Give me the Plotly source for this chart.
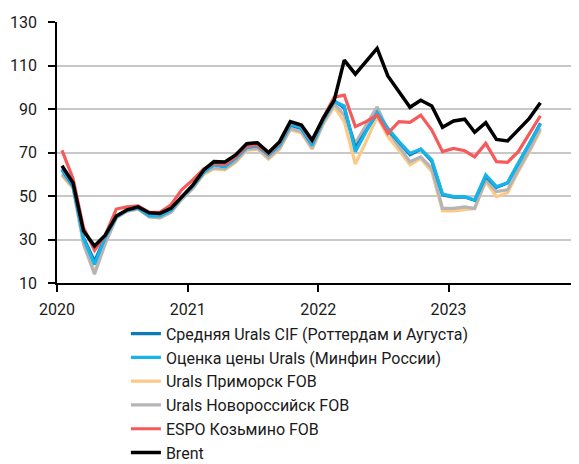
import plotly.graph_objects as go

# Monthly prices, USD/bbl, Jan 2020 - Sep 2023
months = [f"{y}-{m:02d}-15" for y in range(2020, 2024) for m in range(1, 13)][:45]

urals_cif = [62, 54.5, 31, 20, 31, 40.5, 43.5, 44.5, 41, 41, 43.5, 49.5,
             54.5, 61, 64.5, 63.5, 67.5, 72.5, 73, 69, 73.5, 82.5, 81, 73.5,
             85, 93.8, 90.5, 72, 80, 88, 80.5, 74.5, 69, 71.5, 66, 50.5,
             49.5, 49.5, 48, 59, 54, 56, 64.5, 74, 83.5]
urals_minfin = [62.5, 55, 30.5, 18.5, 31, 40.5, 43.5, 44.5, 41, 41, 43.5, 49.5,
                54.5, 61, 64.5, 63.5, 67.5, 72.5, 73, 69, 73.5, 83, 81.5, 73.5,
                85, 93.4, 91.4, 70.4, 79.6, 88.5, 81.1, 75, 69.6, 71.6, 66.6, 50.9,
                49.7, 49.7, 48.2, 59.7, 54.3, 56.1, 65, 74.2, 83.1]
urals_primorsk = [59.5, 53.5, 29, 15, 29, 40, 43, 44, 40.5, 40, 42.5, 48.5,
                  53.5, 60, 62.5, 62, 65.5, 71, 71.5, 67, 71.5, 80.5, 79, 71.5,
                  83, 91, 84.2, 64.7, 75, 86.5, 77.3, 71.1, 64.3, 67.3, 61.2, 43.2,
                  43.2, 43.9, 44.3, 56.6, 49.7, 51.5, 61.2, 70.4, 80]
urals_novoros = [60, 54, 28, 14, 28, 40, 43, 44, 40.5, 40, 42.5, 48.5,
                 53.5, 60.5, 63, 62.5, 66, 71.5, 72, 67.5, 72, 81, 79.5, 72,
                 83.5, 92.3, 87.2, 74.2, 82.6, 91, 80.3, 72.7, 65.8, 68, 62.7, 44.3,
                 44.3, 45, 44.3, 57.4, 52, 52.8, 62, 71, 81.1]
espo = [71, 58, 35.5, 25, 32, 44, 45, 45.5, 42.5, 42.5, 46, 52.8,
        57.4, 62.5, 65, 64.5, 68, 73, 73.5, 69.5, 74.5, 84, 82.5, 75,
        86, 95.4, 96.4, 81.9, 84.2, 87.2, 78.8, 84.2, 83.9, 87.2, 80.3, 70.4,
        71.9, 70.8, 68, 74.2, 65.8, 65.5, 70.4, 78.8, 86.9]
brent = [63.9, 56, 34, 27, 32, 40.8, 43.6, 45, 42.3, 42, 44.3, 49.7,
         55, 62, 65.8, 65.6, 68.9, 74, 74.5, 70, 75, 84.2, 82.6, 75.7,
         85.7, 94.1, 112.5, 106, 111.8, 117.9, 105.2, 98, 90.8, 94, 91.4, 81.6,
         84.5, 85.3, 79.3, 83.7, 76, 75.3, 80.3, 85.7, 92.9]

year_ticks = ["2020-01-01", "2021-01-01", "2022-01-01", "2023-01-01"]
year_labels = ["2020", "2021", "2022", "2023"]

# drawing order (bottom to top), legendrank keeps the legend order of the original
series = [
    ("Urals Приморск FOB", urals_primorsk, "#fcc987", 3),
    ("Urals Новороссийск FOB", urals_novoros, "#b5b5b5", 4),
    ("Средняя Urals CIF (Роттердам и Аугуста)", urals_cif, "#0a7ab8", 1),
    ("Оценка цены Urals (Минфин России)", urals_minfin, "#17b4e9", 2),
    ("ESPO Козьмино FOB", espo, "#f65a5a", 5),
    ("Brent", brent, "#000000", 6),
]

fig = go.Figure()
for name, vals, col, rank in series:
    fig.add_trace(go.Scatter(x=months, y=vals, name=name, mode="lines",
                             line=dict(color=col, width=3.5 if rank == 6 else 3.2),
                             legendrank=rank, legendgroup=name))

# page body has an 8px margin, so the figure is 8px smaller and offset
fig.update_layout(
    width=571, height=456,
    margin=dict(l=49, r=0, t=14, b=181, autoexpand=False),
    plot_bgcolor="white", paper_bgcolor="white",
    font=dict(family="Roboto", size=16, color="#1a1a1a"),
    showlegend=True,
    legend=dict(x=0.132, y=-0.129, xanchor="left", yanchor="top",
                traceorder="grouped", tracegroupgap=0,
                font=dict(size=16), bgcolor="rgba(0,0,0,0)"),
    xaxis=dict(type="date", range=["2020-01-01", "2024-01-01"],
               tickvals=year_ticks, ticktext=year_labels,
               showgrid=False, showline=True, linecolor="black", linewidth=1.5,
               ticks="outside", ticklen=7, tickcolor="black", tickwidth=1.5,
               ticklabelstandoff=4, automargin=False),
    yaxis=dict(range=[10, 130], dtick=20, tick0=10,
               showgrid=True, gridcolor="#c8c8c8", gridwidth=1.5,
               showline=True, linecolor="black", linewidth=1.5,
               ticks="outside", ticklen=7, tickcolor="black", tickwidth=1.5,
               zeroline=False, ticklabelstandoff=8, automargin=False),
)

fig.write_html("out.html")
